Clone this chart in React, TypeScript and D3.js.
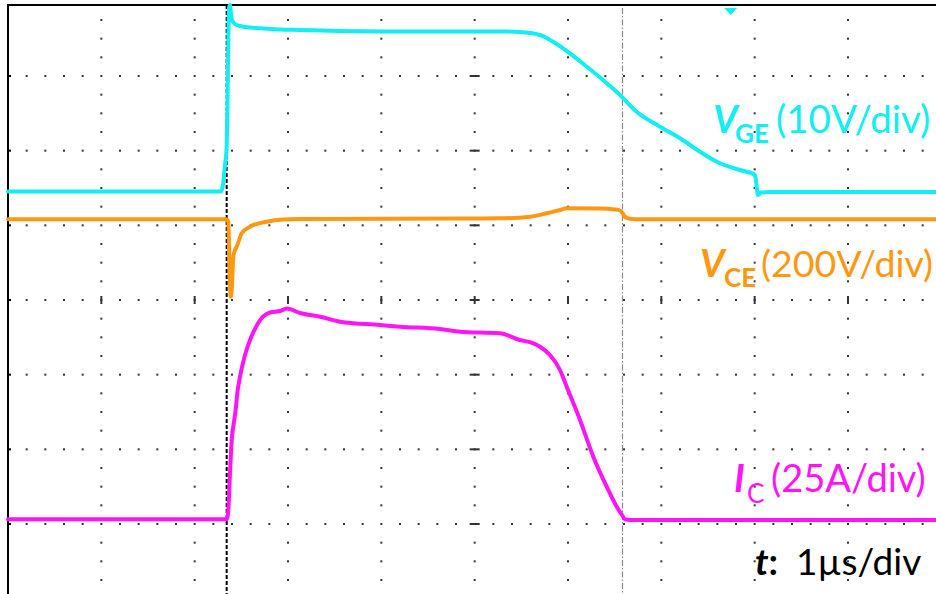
import React from "react";
import * as d3 from "d3";

// Time axis in µs from the left edge of the screen (1 µs/div, 10 div)
// Amplitudes are in screen divisions from the centre line (8 div tall)

const vgeTime = [0, 0.9857, 2.0571, 2.2821, 2.3036, 2.325, 2.3411, 2.3518, 2.3604, 2.3679, 2.3786, 2.3893, 2.4, 2.4321, 2.4857, 2.5929, 2.7, 2.9143, 3.1286, 3.5571, 4.2, 4.8429, 5.2714, 5.4857, 5.7, 5.8393, 6.0214, 6.2004, 6.375, 6.5571, 6.7361, 6.9857, 7.2, 7.4143, 7.6286, 7.8429, 8.0036, 8.0196, 8.0357, 8.0679, 8.1643, 9.0214, 10];
const vgeDiv = [1.4531, 1.4531, 1.4531, 1.4531, 1.5402, 1.808, 2.0089, 2.6786, 3.4821, 3.9107, 3.9509, 3.8304, 3.75, 3.6964, 3.6696, 3.6496, 3.6388, 3.6228, 3.6161, 3.6027, 3.596, 3.596, 3.596, 3.5893, 3.5491, 3.4594, 3.304, 3.1246, 2.9464, 2.7455, 2.5219, 2.321, 2.1656, 1.9862, 1.8308, 1.7411, 1.6741, 1.5402, 1.4063, 1.4397, 1.4464, 1.4464, 1.4464];

const vceTime = [0, 2.3357, 2.3604, 2.3711, 2.3861, 2.3968, 2.4139, 2.4321, 2.4504, 2.504, 2.5929, 2.7718, 2.9464, 3.1286, 4.9146, 5.2714, 5.5929, 5.7718, 5.9143, 5.9861, 6.3429, 6.5036, 6.5571, 6.5839, 6.6107, 6.6643, 6.7714, 10];
const vceDiv = [1.0808, 1.0808, 1.0446, 0.5357, 0.0442, 0.1339, 0.5799, 0.6696, 0.7138, 0.8933, 0.9817, 1.0487, 1.0781, 1.0848, 1.0915, 1.0942, 1.1156, 1.1612, 1.2054, 1.2281, 1.2254, 1.2121, 1.1987, 1.1652, 1.1116, 1.0888, 1.0808, 1.0808];

const icTime = [0, 2.3432, 2.3604, 2.3786, 2.3968, 2.4246, 2.4429, 2.4568, 2.4857, 2.5393, 2.5929, 2.6571, 2.7321, 2.8071, 2.9143, 2.9893, 3.1286, 3.3429, 3.5571, 3.9857, 4.2, 4.6286, 4.8429, 5.2714, 5.4857, 5.6282, 5.7, 5.8071, 5.9143, 5.9861, 6.1286, 6.2711, 6.4146, 6.5218, 6.5786, 6.6107, 6.6643, 10];
const icDiv = [-2.937, -2.937, -2.8125, -2.317, -1.875, -1.6071, -1.429, -1.2496, -1.0272, -0.7366, -0.5357, -0.3616, -0.2237, -0.1674, -0.1473, -0.1138, -0.1741, -0.2237, -0.2906, -0.3348, -0.3576, -0.3884, -0.4246, -0.446, -0.5357, -0.5799, -0.6254, -0.7366, -0.9375, -1.1612, -1.6071, -2.0987, -2.5004, -2.7683, -2.8795, -2.937, -2.9464, -2.9464];

const triggerTime = 2.343;
const cursorTime = 6.584;
const markerTime = 7.743;

const timeDivs = [0, 1, 2, 3, 4, 5, 6, 7, 8, 9, 10];
const ampDivs = [-4, -3, -2, -1, 0, 1, 2, 3, 4];

const CYAN = "#12EEF2";
const ORANGE = "#FF9811";
const MAGENTA = "#FF14F5";
const FONT = "Lato, 'Open Sans', sans-serif";

const W = 936;
const H = 594;

export default function App() {
  const x = d3.scaleLinear().domain([0, 10]).range([8, 941.33]);
  const y = d3.scaleLinear().domain([-4, 4]).range([598.67, 1.33]);

  const line = (ts: number[], vs: number[]) =>
    d3
      .line<number>()
      .x((_, i) => x(ts[i]))
      .y((v) => y(v))
      .curve(d3.curveMonotoneX)(vs) || "";

  // dots along graticule
  const dots: { cx: number; cy: number }[] = [];
  for (let k = 1; k < 10; k++) {
    for (let m = 0; m <= 32; m++) {
      const v = -4 + m / 4;
      const cy = y(v);
      if (cy < 6 || cy > H) continue;
      dots.push({ cx: x(k), cy });
    }
  }
  for (let j = 1; j < 8; j++) {
    const v = ampDivs[j];
    for (let n = 1; n < 50; n++) {
      const t = n / 5;
      if (n % 5 === 0) continue;
      const cx = x(t);
      if (cx > W) continue;
      dots.push({ cx, cy: y(v) });
    }
  }

  return (
    <svg
      width={W}
      height={H}
      style={{ position: "absolute", left: 0, top: 0, display: "block", background: "#fff" }}
    >
      <rect x={0} y={0} width={W} height={H} fill="#fff" />
      {/* graticule dots */}
      <g fill="#333">
        {dots.map((d, i) => (
          <rect key={i} x={d.cx - 1} y={d.cy - 1} width={2} height={2} />
        ))}
      </g>
      {/* centre-axis ticks */}
      <g stroke="#333" strokeWidth={2}>
        {timeDivs.slice(1, 10).map((t) => (
          <line key={"ct" + t} x1={x(t)} x2={x(t)} y1={y(0) - 4} y2={y(0) + 4} />
        ))}
        {ampDivs.slice(1, 8).map((v) => (
          <line key={"cv" + v} x1={x(5) - 5} x2={x(5) + 5} y1={y(v)} y2={y(v)} />
        ))}
      </g>
      {/* frame */}
      <line x1={8} x2={W} y1={5} y2={5} stroke="#000" strokeWidth={2} />
      <line x1={8} x2={8} y1={4} y2={H} stroke="#000" strokeWidth={2} />
      <g stroke="#000" strokeWidth={2}>
        {ampDivs.slice(1, 8).map((v) => (
          <line key={"lt" + v} x1={8} x2={11} y1={y(v)} y2={y(v)} />
        ))}
      </g>
      {/* cursor lines */}
      <line
        x1={x(cursorTime)}
        x2={x(cursorTime)}
        y1={8}
        y2={H}
        stroke="#8a8a8a"
        strokeWidth={1.2}
        strokeDasharray="6,2,1.5,2"
      />
      <line
        x1={x(triggerTime)}
        x2={x(triggerTime)}
        y1={5}
        y2={H}
        stroke="#000"
        strokeWidth={2}
        strokeDasharray="4,2"
      />
      {/* traces */}
      <g fill="none" strokeWidth={4} strokeLinejoin="round" strokeLinecap="round">
        <path d={line(vceTime, vceDiv)} stroke={ORANGE} />
        <path d={line(icTime, icDiv)} stroke={MAGENTA} />
        <path d={line(vgeTime, vgeDiv)} stroke={CYAN} />
      </g>
      {/* trigger level marker */}
      <path
        d={`M${x(markerTime) - 6.5},8 L${x(markerTime) + 6.5},8 L${x(markerTime)},15 Z`}
        fill={CYAN}
      />
      {/* labels */}
      <g fontFamily={FONT}>
        <text x={713} y={133} fontSize={38} fontWeight="bold" fontStyle="italic" fill={CYAN}>V</text>
        <text x={735} y={143} fontSize={26} fontWeight="bold" fill={CYAN}>GE</text>
        <text x={776} y={133} fontSize={38.5} fill={CYAN}>(10V/div)</text>

        <text x={700} y={277} fontSize={38} fontWeight="bold" fontStyle="italic" fill={ORANGE}>V</text>
        <text x={724} y={287} fontSize={26} fontWeight="bold" fill={ORANGE}>CE</text>
        <text x={761} y={277} fontSize={37.5} fill={ORANGE}>(200V/div)</text>

        <text x={734} y={492} fontSize={38} fontWeight="bold" fontStyle="italic" fill={MAGENTA}>I</text>
        <text x={747} y={503} fontSize={26} fill={MAGENTA}>C</text>
        <text x={771} y={492} fontSize={38} fill={MAGENTA}>(25A/div)</text>

        <text x={755} y={575} fontSize={37} fontWeight="bold" fill="#000">
          <tspan fontStyle="italic">t</tspan>
          <tspan>:</tspan>
        </text>
        <text x={796} y={575} fontSize={37} fill="#000">1µs/div</text>
      </g>
    </svg>
  );
}
